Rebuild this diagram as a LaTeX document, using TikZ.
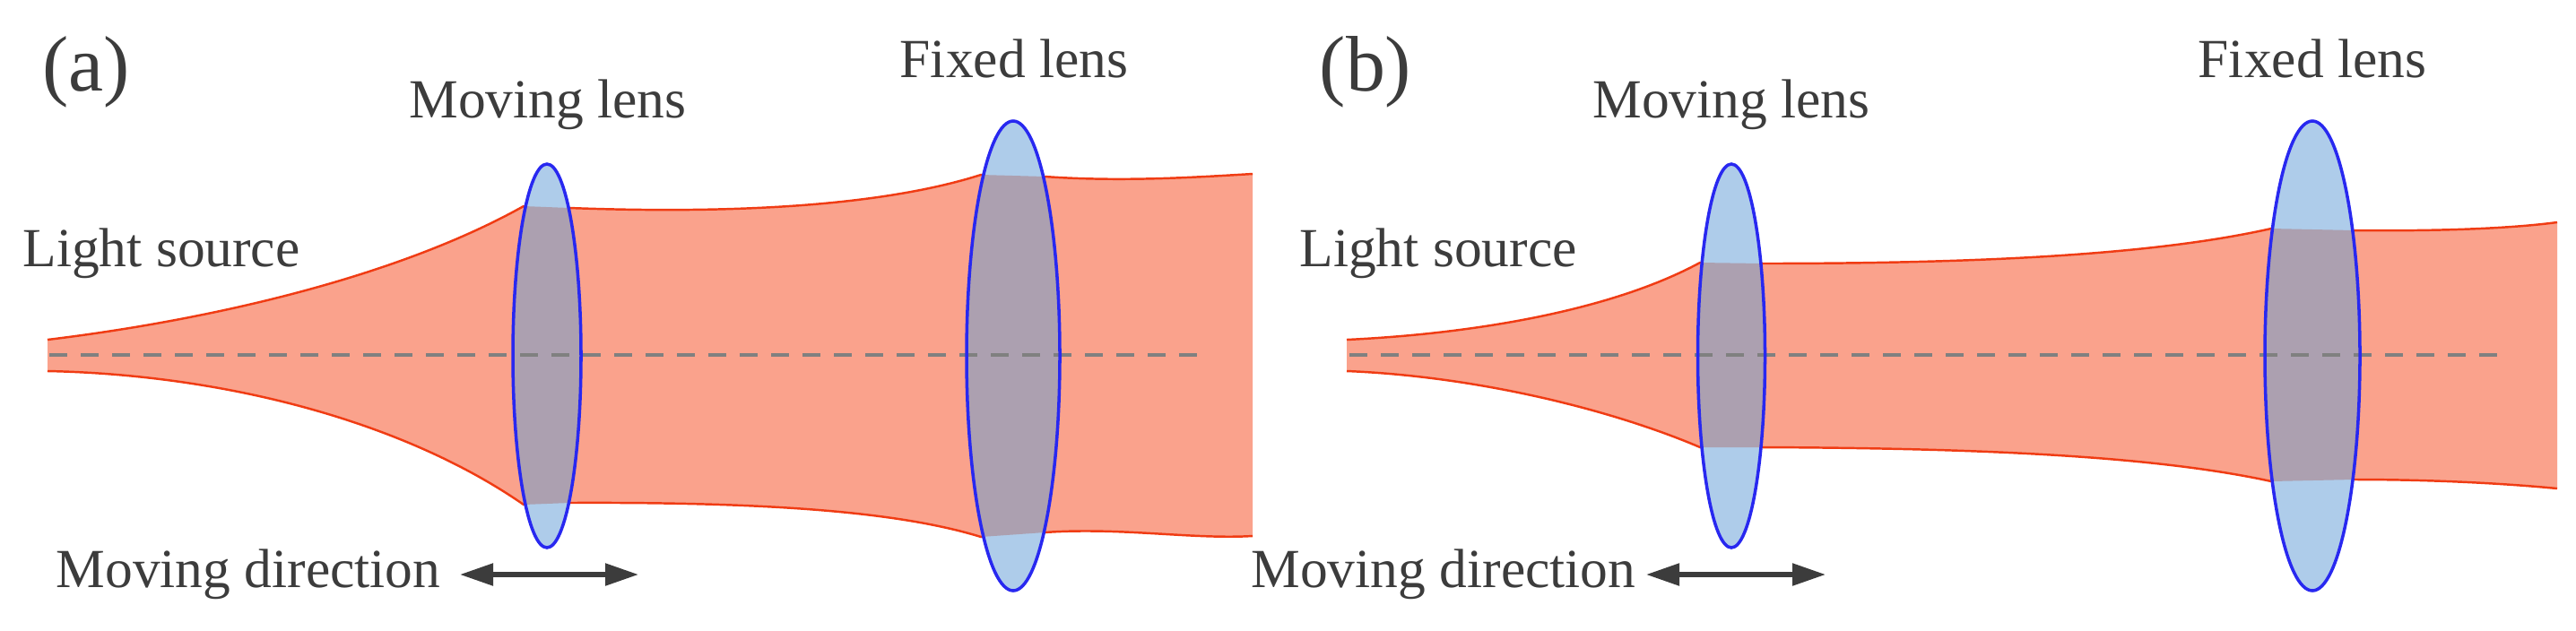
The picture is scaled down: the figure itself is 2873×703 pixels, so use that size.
\documentclass[tikz,border=0pt]{standalone}
\usepackage{fontspec}
\setmainfont{Liberation Serif}
\usetikzlibrary{arrows.meta}
\definecolor{beamfill}{RGB}{250,162,140}
\definecolor{beamedge}{RGB}{240,60,20}
\definecolor{lensfill}{RGB}{174,204,234}
\definecolor{lensedge}{RGB}{40,40,240}
\definecolor{overlap}{RGB}{172,160,176}
\definecolor{txt}{RGB}{60,60,60}
\begin{document}
\begin{tikzpicture}[x=0.1mm,y=-0.1mm,
  lbl/.style={text=txt,font=\fontsize{17.5}{20}\selectfont,inner sep=0},
  tag/.style={text=txt,font=\fontsize{25}{28}\selectfont,inner sep=0},
  edge/.style={draw=beamedge,line width=0.7pt},
  lensline/.style={draw=lensedge,line width=1pt},
  axis/.style={draw=gray,dashed,line width=1pt,dash pattern=on 2mm off 1.5mm},
  dir/.style={draw=txt,line width=1.5pt,{Triangle[length=3.7mm,width=2.4mm]}-{Triangle[length=3.7mm,width=2.4mm]}}]
\useasboundingbox (0,0) rectangle (2873,703);
% ---------- panel (a) ----------
\def\beamA{(53,379) .. controls (250,355) and (450,305) .. (584,230) -- (635,232) .. controls (850,240) and (1000,225) .. (1094,195) -- (1165,197) .. controls (1250,203) and (1330,198) .. (1397,194) -- (1397,598) .. controls (1330,602) and (1250,588) .. (1165,594) -- (1094,599) .. controls (1000,570) and (850,560) .. (635,561) -- (584,563) .. controls (450,470) and (250,418) .. (53,414) -- cycle}
\fill[beamfill] \beamA;
\draw[edge] (53,379) .. controls (250,355) and (450,305) .. (584,230) -- (635,232) .. controls (850,240) and (1000,225) .. (1094,195) -- (1165,197) .. controls (1250,203) and (1330,198) .. (1397,194);
\draw[edge] (1397,598) .. controls (1330,602) and (1250,588) .. (1165,594) -- (1094,599) .. controls (1000,570) and (850,560) .. (635,561) -- (584,563) .. controls (450,470) and (250,418) .. (53,414);
\fill[lensfill] (610,397) ellipse [x radius=3.8mm, y radius=21.4mm];
\fill[lensfill] (1130,397) ellipse [x radius=5.2mm, y radius=26.2mm];
\begin{scope}\clip (610,397) ellipse [x radius=3.8mm, y radius=21.4mm]; \fill[overlap] \beamA; \end{scope}
\begin{scope}\clip (1130,397) ellipse [x radius=5.2mm, y radius=26.2mm]; \fill[overlap] \beamA; \end{scope}
\draw[axis] (55,396) -- (1342,396);
\draw[lensline] (610,397) ellipse [x radius=3.8mm, y radius=21.4mm];
\draw[lensline] (1130,397) ellipse [x radius=5.2mm, y radius=26.2mm];
\node[tag] (ta) at (96,80) {(a)};
\node[lbl] (mla) at (611,117) {Moving lens};
\node[lbl] (fla) at (1131,65) {Fixed lens};
\node[lbl] (lsa) at (180,283) {Light source};
\node[lbl] (mda) at (277,641) {Moving direction};
\coordinate (a1) at (513,641); \coordinate (a2) at (712,641);
\draw[dir] (a1) -- (a2);
% ---------- panel (b) ----------
\def\beamB{(1502,379) .. controls (1650,372) and (1800,345) .. (1896,293) -- (1965,294) .. controls (2200,294) and (2400,285) .. (2533,255) -- (2625,257) .. controls (2720,258) and (2800,255) .. (2852,248) -- (2852,545) .. controls (2800,540) and (2720,535) .. (2625,535) -- (2533,537) .. controls (2400,508) and (2200,500) .. (1965,499) -- (1896,499) .. controls (1800,458) and (1650,420) .. (1502,414) -- cycle}
\fill[beamfill] \beamB;
\draw[edge] (1502,379) .. controls (1650,372) and (1800,345) .. (1896,293) -- (1965,294) .. controls (2200,294) and (2400,285) .. (2533,255) -- (2625,257) .. controls (2720,258) and (2800,255) .. (2852,248);
\draw[edge] (2852,545) .. controls (2800,540) and (2720,535) .. (2625,535) -- (2533,537) .. controls (2400,508) and (2200,500) .. (1965,499) -- (1896,499) .. controls (1800,458) and (1650,420) .. (1502,414);
\fill[lensfill] (1931,397) ellipse [x radius=3.75mm, y radius=21.4mm];
\fill[lensfill] (2579,397) ellipse [x radius=5.3mm, y radius=26.2mm];
\begin{scope}\clip (1931,397) ellipse [x radius=3.75mm, y radius=21.4mm]; \fill[overlap] \beamB; \end{scope}
\begin{scope}\clip (2579,397) ellipse [x radius=5.3mm, y radius=26.2mm]; \fill[overlap] \beamB; \end{scope}
\draw[axis] (1505,396) -- (2789,396);
\draw[lensline] (1931,397) ellipse [x radius=3.75mm, y radius=21.4mm];
\draw[lensline] (2579,397) ellipse [x radius=5.3mm, y radius=26.2mm];
\node[tag] (tb) at (1523,80) {(b)};
\node[lbl] (mlb) at (1931,117) {Moving lens};
\node[lbl] (flb) at (2579,65) {Fixed lens};
\node[lbl] (lsb) at (1604,283) {Light source};
\node[lbl,anchor=east] (mdb) at (1825,641) {Moving direction};
\coordinate (b1) at (1836,641); \coordinate (b2) at (2036,641);
\draw[dir] (b1) -- (b2);
\end{tikzpicture}
\end{document}
